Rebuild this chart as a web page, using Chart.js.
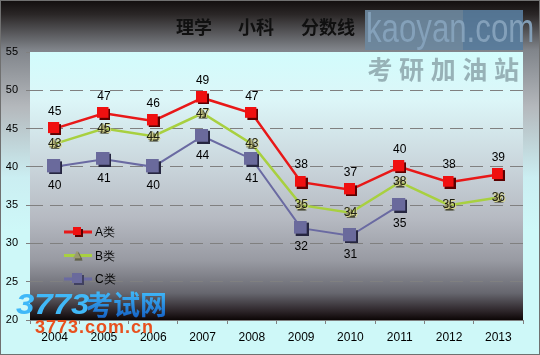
<!DOCTYPE html>
<html>
<head>
<meta charset="utf-8">
<script src="https://cdn.jsdelivr.net/npm/chart.js@4.4.1/dist/chart.umd.min.js"></script>
<style>
  html, body { margin: 0; padding: 0; background: #cef8f8; }
  #wrap { width: 540px; height: 355px; position: relative; }
</style>
</head>
<body>
<div id="wrap"><canvas id="c" width="540" height="355"></canvas></div>
<script>
const categories = ['2004', '2005', '2006', '2007', '2008', '2009', '2010', '2011', '2012', '2013'];
const seriesA = [45, 47, 46, 49, 47, 38, 37, 40, 38, 39];
const seriesB = [43, 45, 44, 47, 43, 35, 34, 38, 35, 36];
const seriesC = [40, 41, 40, 44, 41, 32, 31, 35, null, null];
const seriesNames = ['A类', 'B类', 'C类'];
const yMin = 20, yMax = 55, yStep = 5;
const titleParts = ['理学', '小科', '分数线'];

function makeSquare(size, fill, shadow) {
  const c = document.createElement('canvas');
  c.width = size + 2; c.height = size + 2;
  const g = c.getContext('2d');
  g.fillStyle = shadow; g.fillRect(2, 2, size, size);
  g.fillStyle = fill; g.fillRect(0, 0, size, size);
  return c;
}
function makeTri(size, fill, shadow) {
  const c = document.createElement('canvas');
  c.width = size + 2; c.height = size + 2;
  const g = c.getContext('2d');
  const tri = (o, col) => {
    g.beginPath(); g.moveTo(size / 2 + o, o); g.lineTo(size + o, size + o); g.lineTo(o, size + o); g.closePath();
    g.fillStyle = col; g.fill();
  };
  tri(1.5, shadow); tri(0, fill);
  return c;
}
const markA = makeSquare(11, '#f01010', '#5a0000');
const markB = makeTri(9, '#8c8c60', '#303018');
const markC = makeSquare(13, '#6a6a9c', '#262640');
const legA = makeSquare(8, '#f01010', '#5a0000');
const legB = makeTri(8, '#9a9a70', '#505030');
const legC = makeSquare(10, '#6a6a9c', '#404060');

const bgPlugin = {
  id: 'bg',
  beforeDraw(chart) {
    const ctx = chart.ctx, W = chart.width, H = chart.height, a = chart.chartArea;
    ctx.save();
    let g = ctx.createLinearGradient(0, 0, 0, H);
    g.addColorStop(0, '#120e0e');
    g.addColorStop(0.04, '#2a2626');
    g.addColorStop(0.14, '#80848a');
    g.addColorStop(0.3, '#b4b8bc');
    g.addColorStop(0.5, '#cbeef2');
    g.addColorStop(0.65, '#cef8f8');
    g.addColorStop(1, '#cef8f8');
    ctx.fillStyle = g; ctx.fillRect(0, 0, W, H);
    g = ctx.createLinearGradient(0, a.top, 0, a.bottom);
    g.addColorStop(0, '#d2fcfc');
    g.addColorStop(0.18, '#dcf6f8');
    g.addColorStop(0.42, '#cad6dc');
    g.addColorStop(0.62, '#b6bac2');
    g.addColorStop(0.78, '#989aa2');
    g.addColorStop(0.9, '#66666e');
    g.addColorStop(0.97, '#2a2226');
    g.addColorStop(1, '#0c0606');
    ctx.fillStyle = g; ctx.fillRect(a.left, a.top, a.right - a.left, a.bottom - a.top);
    // watermarks
    ctx.fillStyle = 'rgba(108,136,158,0.92)';
    ctx.fillRect(365, 10, 98, 40);
    ctx.fillStyle = 'rgba(88,124,156,0.92)';
    ctx.fillRect(463, 10, 60, 40);
    ctx.save();
    ctx.translate(366, 31);
    ctx.scale(0.78, 1);
    ctx.font = '40px "Liberation Sans"';
    ctx.textBaseline = 'middle'; ctx.textAlign = 'left';
    ctx.fillStyle = 'rgba(134,162,188,0.95)';
    ctx.fillText('kaoyan.com', 0, 0);
    ctx.restore();
    ctx.font = 'bold 25px "Noto Sans CJK SC"';
    ctx.fillStyle = 'rgba(140,165,170,0.85)';
    ctx.textBaseline = 'middle'; ctx.textAlign = 'center';
    '考研加油站'.split('').forEach((ch, i) => ctx.fillText(ch, 380 + i * 31.6, 69));
    // title
    ctx.font = 'bold 18px "Noto Sans CJK SC"';
    ctx.fillStyle = '#101010'; ctx.textAlign = 'center';
    const cx = W / 2;
    [cx - 76, cx - 14, cx + 58].forEach((x, i) => ctx.fillText(titleParts[i], x, 27));
    ctx.restore();
  },
  afterDatasetsDraw(chart) {
    const ctx = chart.ctx, a = chart.chartArea;
    ctx.save();
    ctx.font = '12px "Liberation Sans"';
    ctx.textAlign = 'center'; ctx.textBaseline = 'middle';
    chart.data.datasets.forEach((ds, i) => {
      const meta = chart.getDatasetMeta(i);
      meta.data.forEach((p, j) => {
        const v = ds.data[j];
        if (v == null) return;
        if (i === 0) { ctx.fillStyle = '#000'; ctx.fillText(String(v), p.x, p.y - 17); }
        else if (i === 1) {
          ctx.fillStyle = '#d8d890'; ctx.fillText(String(v), p.x + 1, p.y + 1);
          ctx.fillStyle = '#202010'; ctx.fillText(String(v), p.x, p.y);
        }
        else { ctx.fillStyle = '#000'; ctx.fillText(String(v), p.x, p.y + 19); }
      });
    });
    // legend inside plot
    const legMarks = [legA, legB, legC];
    chart.data.datasets.forEach((ds, i) => {
      const y = a.top + 180 + i * 23.5;
      const x0 = a.left + 34, x1 = a.left + 62;
      ctx.strokeStyle = ds.borderColor; ctx.lineWidth = 3;
      ctx.beginPath(); ctx.moveTo(x0, y); ctx.lineTo(x1, y); ctx.stroke();
      const m = legMarks[i];
      ctx.drawImage(m, (x0 + x1) / 2 - m.width / 2, y - m.height / 2);
      ctx.fillStyle = '#000'; ctx.textAlign = 'left';
      ctx.fillText(seriesNames[i], x1 + 3, y + 1);
    });
    ctx.restore();
  },
  afterDraw(chart) {
    const ctx = chart.ctx;
    ctx.save();
    const g = ctx.createLinearGradient(0, 292, 0, 321);
    g.addColorStop(0, '#40b8f8'); g.addColorStop(1, '#1058c0');
    ctx.fillStyle = g;
    ctx.textBaseline = 'middle'; ctx.textAlign = 'left';
    ctx.save();
    ctx.translate(16, 306);
    ctx.scale(1.1, 1);
    ctx.font = 'italic bold 30px "Liberation Sans"';
    ctx.fillText('3773', 0, 0);
    ctx.restore();
    ctx.font = 'bold 27px "Noto Sans CJK SC"';
    ctx.fillText('考试网', 86, 305);
    ctx.fillStyle = '#e8501e';
    ctx.font = 'bold 18px "Liberation Sans"';
    ctx.letterSpacing = '1px';
    ctx.fillText('3773.com.cn', 35, 328);
    ctx.letterSpacing = '0px';
    ctx.strokeStyle = '#707070'; ctx.lineWidth = 1;
    ctx.strokeRect(0.5, 0.5, chart.width - 1, chart.height - 1);
    ctx.restore();
  }
};

new Chart(document.getElementById('c'), {
  type: 'line',
  data: {
    labels: categories,
    datasets: [
      { label: seriesNames[0], data: seriesA, borderColor: '#e81818', borderWidth: 2.5, pointStyle: markA, pointRadius: 6, tension: 0 },
      { label: seriesNames[1], data: seriesB, borderColor: '#a8d040', borderWidth: 2.5, pointStyle: markB, pointRadius: 5, tension: 0 },
      { label: seriesNames[2], data: seriesC, borderColor: '#6a6aa2', borderWidth: 2, pointStyle: markC, pointRadius: 7, tension: 0 }
    ]
  },
  options: {
    responsive: false,
    animation: false,
    events: [],
    layout: { padding: { left: 0, right: 17, top: 52, bottom: 0 } },
    plugins: { legend: { display: false }, title: { display: false }, tooltip: { enabled: false } },
    scales: {
      x: {
        offset: true,
        grid: { offset: true, drawOnChartArea: false, drawTicks: true, tickLength: 4, color: '#808080' },
        border: { display: true, color: '#808080', width: 1 },
        ticks: { color: '#000', font: { family: 'Liberation Sans', size: 12 }, padding: 6, maxRotation: 0, autoSkip: false },
        afterFit(s) { s.height = 35; }
      },
      y: {
        min: yMin, max: yMax,
        grid: {
          color: (c) => (c.tick && (c.tick.value === yMin || c.tick.value === yMax)) ? 'rgba(0,0,0,0)' : '#808080',
          tickColor: '#808080', tickLength: 4, lineWidth: 1
        },
        border: { display: false, dash: [13, 7] },
        ticks: { stepSize: yStep, color: '#000', font: { family: 'Liberation Sans', size: 11 }, padding: 8 },
        afterFit(s) { s.width = 30; }
      }
    }
  },
  plugins: [bgPlugin]
});
</script>
</body>
</html>
